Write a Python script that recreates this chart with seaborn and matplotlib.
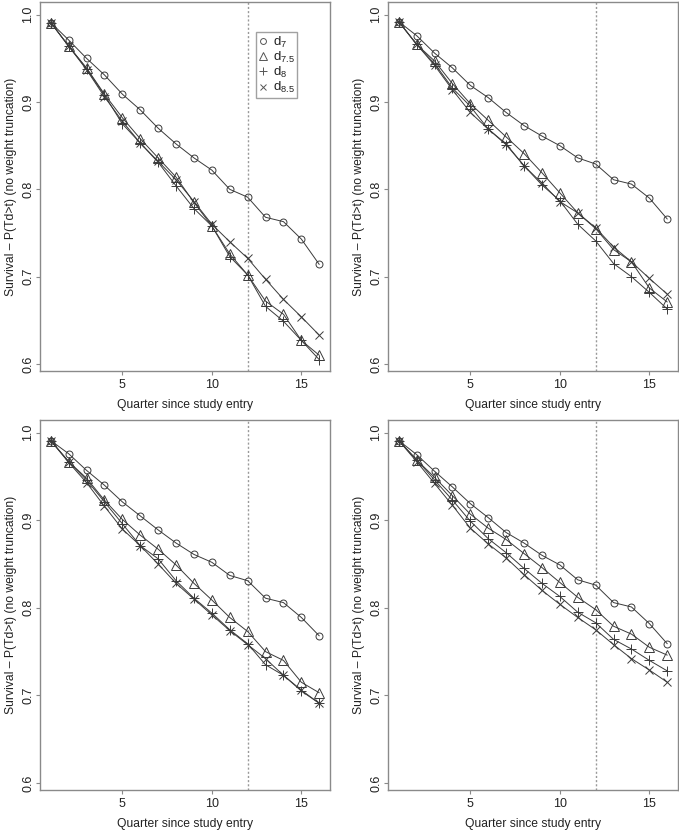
import numpy as np
import pandas as pd
import seaborn as sns
import matplotlib.pyplot as plt
from matplotlib.lines import Line2D

# quarters since study entry
quarters = list(range(1, 17))
series_names = ["d7", "d7.5", "d8", "d8.5"]
legend_labels = [r"$\mathregular{d_7}$", r"$\mathregular{d_{7.5}}$",
                 r"$\mathregular{d_8}$", r"$\mathregular{d_{8.5}}$"]

# panel 1 (top left)
p1_d7 = [0.991, 0.971, 0.950, 0.931, 0.909, 0.891, 0.870, 0.852,
         0.836, 0.822, 0.800, 0.791, 0.768, 0.763, 0.743, 0.714]
p1_d75 = [0.991, 0.964, 0.939, 0.909, 0.882, 0.858, 0.836, 0.814,
          0.785, 0.758, 0.726, 0.702, 0.672, 0.657, 0.627, 0.610]
p1_d8 = [0.991, 0.964, 0.938, 0.908, 0.875, 0.853, 0.831, 0.804,
         0.778, 0.758, 0.723, 0.702, 0.666, 0.649, 0.627, 0.605]
p1_d85 = [0.991, 0.964, 0.937, 0.906, 0.878, 0.853, 0.832, 0.811,
          0.786, 0.760, 0.740, 0.721, 0.697, 0.674, 0.654, 0.633]

# panel 2 (top right)
p2_d7 = [0.992, 0.976, 0.956, 0.939, 0.919, 0.905, 0.888, 0.873,
         0.861, 0.850, 0.836, 0.829, 0.811, 0.806, 0.790, 0.766]
p2_d75 = [0.992, 0.966, 0.947, 0.921, 0.898, 0.879, 0.860, 0.841,
          0.819, 0.796, 0.773, 0.755, 0.731, 0.717, 0.687, 0.671]
p2_d8 = [0.992, 0.966, 0.944, 0.916, 0.895, 0.869, 0.851, 0.827,
         0.805, 0.787, 0.760, 0.741, 0.715, 0.700, 0.682, 0.663]
p2_d85 = [0.992, 0.966, 0.942, 0.914, 0.888, 0.869, 0.852, 0.827,
          0.807, 0.786, 0.773, 0.756, 0.734, 0.717, 0.698, 0.680]

# panel 3 (bottom left)
p3_d7 = [0.991, 0.976, 0.957, 0.940, 0.921, 0.905, 0.889, 0.874,
         0.861, 0.852, 0.837, 0.831, 0.811, 0.806, 0.789, 0.768]
p3_d75 = [0.991, 0.967, 0.948, 0.923, 0.901, 0.883, 0.867, 0.849,
          0.828, 0.809, 0.789, 0.773, 0.750, 0.740, 0.715, 0.703]
p3_d8 = [0.991, 0.967, 0.946, 0.921, 0.896, 0.871, 0.856, 0.831,
         0.811, 0.794, 0.775, 0.759, 0.735, 0.723, 0.705, 0.691]
p3_d85 = [0.991, 0.966, 0.943, 0.916, 0.890, 0.871, 0.850, 0.828,
          0.810, 0.792, 0.774, 0.758, 0.742, 0.723, 0.706, 0.691]

# panel 4 (bottom right)
p4_d7 = [0.991, 0.975, 0.956, 0.938, 0.919, 0.903, 0.886, 0.874,
         0.860, 0.849, 0.832, 0.826, 0.806, 0.801, 0.782, 0.759]
p4_d75 = [0.991, 0.969, 0.949, 0.928, 0.907, 0.891, 0.878, 0.862,
          0.846, 0.829, 0.812, 0.798, 0.779, 0.770, 0.755, 0.746]
p4_d8 = [0.991, 0.969, 0.946, 0.923, 0.899, 0.879, 0.863, 0.845,
         0.828, 0.813, 0.795, 0.783, 0.764, 0.753, 0.740, 0.728]
p4_d85 = [0.991, 0.967, 0.942, 0.917, 0.891, 0.873, 0.857, 0.838,
          0.820, 0.804, 0.789, 0.775, 0.758, 0.742, 0.729, 0.715]

panels = [
    [p1_d7, p1_d75, p1_d8, p1_d85],
    [p2_d7, p2_d75, p2_d8, p2_d85],
    [p3_d7, p3_d75, p3_d8, p3_d85],
    [p4_d7, p4_d75, p4_d8, p4_d85],
]

x_ticks = [5, 10, 15]
y_ticks = [0.6, 0.7, 0.8, 0.9, 1.0]
cutoff_quarter = 12

sns.set_style("ticks")
plt.rcParams['font.family'] = ['Liberation Sans', 'DejaVu Sans']

markers = {"d7": "o", "d7.5": "^", "d8": "+", "d8.5": "x"}
marker_sizes = {"d7": 5, "d7.5": 6.5, "d8": 7, "d8.5": 5.5}
line_col = "#3a3a3a"
frame_col = "#8a8a8a"
text_col = "#222222"

fig = plt.figure(figsize=(6.79, 8.31), dpi=100)
W, H = 679, 831
# axes boxes in pixels: left, top, right, bottom
boxes = [(40, 2, 330, 371), (388, 2, 678, 371),
         (40, 420, 330, 790), (388, 420, 678, 790)]

for i, vals in enumerate(panels):
    l, t, r, b = boxes[i]
    ax = fig.add_axes([l / W, 1 - b / H, (r - l) / W, (b - t) / H])

    df = pd.DataFrame({
        "quarter": quarters * 4,
        "surv": np.concatenate(vals),
        "series": np.repeat(series_names, len(quarters)),
    })
    for name in series_names:
        sub = df[df["series"] == name]
        sns.lineplot(data=sub, x="quarter", y="surv", ax=ax,
                     color=line_col, linewidth=0.7, marker=markers[name],
                     markersize=marker_sizes[name], markerfacecolor="none",
                     markeredgecolor=line_col, markeredgewidth=0.7,
                     legend=False)

    ax.axvline(cutoff_quarter, color="#999999", linestyle=(0, (1.5, 1.5)),
               linewidth=1.0, zorder=0)

    ax.set_xlim(0.4, 16.6)
    ax.set_ylim(0.592, 1.0145)
    ax.set_xticks(x_ticks)
    ax.set_yticks(y_ticks)
    ax.set_yticklabels([f"{v:.1f}" for v in y_ticks], rotation=90, va="center")
    ax.tick_params(colors=frame_col, labelcolor=text_col, labelsize=9,
                   length=3, width=0.8, pad=2.5)
    ax.tick_params(axis="y", pad=1)
    for s in ax.spines.values():
        s.set_visible(True)
        s.set_color(frame_col)
        s.set_linewidth(1.0)
    ax.set_xlabel("Quarter since study entry", fontsize=8.7, color=text_col,
                  labelpad=6)
    ax.set_ylabel("Survival \u2013 P(Td>t) (no weight truncation)",
                  fontsize=8.7, color=text_col, labelpad=4)

    if i == 0:
        handles = [Line2D([], [], linestyle="none", marker=markers[n],
                          markersize=marker_sizes[n] * 0.85,
                          markerfacecolor="none", markeredgecolor="#555555",
                          markeredgewidth=0.7) for n in series_names]
        leg = ax.legend(handles, legend_labels, loc="upper left",
                        bbox_to_anchor=(0.745, 0.918), fontsize=9.5,
                        frameon=True, fancybox=False, handlelength=0.7,
                        handletextpad=0.35, borderpad=0.2, labelspacing=0.0,
                        borderaxespad=0)
        leg.get_frame().set_edgecolor(frame_col)
        leg.get_frame().set_linewidth(1.0)
        for txt in leg.get_texts():
            txt.set_color(text_col)

fig.savefig("out.png", dpi=100)
